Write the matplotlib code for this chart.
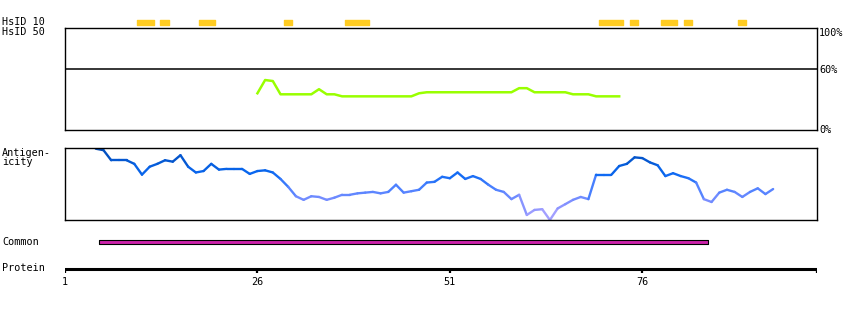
import matplotlib
matplotlib.use('Agg')
import matplotlib.pyplot as plt
from matplotlib.collections import LineCollection
from matplotlib.colors import LinearSegmentedColormap
import numpy as np

# Protein overview plot: HsID hits, identity (%) track, antigenicity track, common region

W, H = 850, 310
protein_end = 98.7
tick_residues = [1, 26, 51, 76]

# HsID 10 hits: (first residue, number of residues)
hsid10_start = [10, 13, 18, 29, 37, 70, 74, 78, 81, 88]
hsid10_len = [2, 1, 2, 1, 3, 3, 1, 2, 1, 1]

# identity track (%), residues 26..73
ident_res = list(range(26, 74))
ident_pct = [36, 49, 48, 35, 35, 35, 35, 35, 40, 35, 35, 33,
             33, 33, 33, 33, 33, 33, 33, 33, 33, 36, 37, 37,
             37, 37, 37, 37, 37, 37, 37, 37, 37, 37, 41, 41,
             37, 37, 37, 37, 37, 35, 35, 35, 33, 33, 33, 33]

# antigenicity (relative score), residues 5..93
antig_res = list(range(5, 94))
antig_val = [0.99, 0.97, 0.83, 0.83, 0.83, 0.78, 0.63, 0.74, 0.78, 0.83,
             0.81, 0.90, 0.74, 0.66, 0.68, 0.78, 0.70, 0.71, 0.71, 0.71,
             0.64, 0.68, 0.69, 0.66, 0.57, 0.46, 0.33, 0.28, 0.33, 0.32,
             0.28, 0.31, 0.35, 0.35, 0.37, 0.38, 0.39, 0.37, 0.39, 0.49,
             0.38, 0.40, 0.42, 0.52, 0.53, 0.60, 0.58, 0.66, 0.57, 0.61,
             0.57, 0.49, 0.42, 0.39, 0.29, 0.35, 0.07, 0.14, 0.15, 0.00,
             0.16, 0.22, 0.28, 0.32, 0.29, 0.63, 0.63, 0.63, 0.75, 0.78,
             0.87, 0.86, 0.80, 0.76, 0.61, 0.65, 0.61, 0.58, 0.52, 0.29,
             0.25, 0.38, 0.42, 0.39, 0.32, 0.39, 0.44, 0.36, 0.43]

# common region
common_start, common_end = 5, 84

font = dict(family='DejaVu Sans Mono', fontsize=7.3)


def fig_box(x0, y0, x1, y1):
    # pixel box (top-left origin) -> figure fraction rect
    return [x0 / W, 1 - y1 / H, (x1 - x0) / W, (y1 - y0) / H]


def ptext(x, y, s, **kw):
    fig.text(x / W, 1 - y / H, s, va='center', **font, **kw)


fig = plt.figure(figsize=(W / 100, H / 100), dpi=100)
xlim = (1, protein_end)

# HsID rows
ax_h = fig.add_axes(fig_box(65, 14, 817, 38))
ax_h.set_xlim(*xlim)
ax_h.set_ylim(0, 24)
ax_h.broken_barh([(s + 0.4, n + 0.1) for s, n in zip(hsid10_start, hsid10_len)],
                 (13.5, 5), color='#ffcc22')
ax_h.axis('off')

# identity panel
ax_i = fig.add_axes(fig_box(65, 28, 817, 130))
ax_i.set_xlim(*xlim)
ax_i.set_ylim(0, 100)
ax_i.axhline(60, color='black', lw=1.1)
ax_i.plot(ident_res, ident_pct, color='#99ff00', lw=1.8)
ax_i.set_xticks([])
ax_i.set_yticks([])
for sp in ax_i.spines.values():
    sp.set_linewidth(1.0)

# antigenicity panel
ax_a = fig.add_axes(fig_box(65, 148, 817, 220))
ax_a.set_xlim(*xlim)
ax_a.set_ylim(0, 1)
cmap = LinearSegmentedColormap.from_list(
    'antig', [(0.0, '#b0a6ff'), (0.25, '#8090ff'), (0.45, '#4a80ff'),
              (0.65, '#0a68f2'), (1.0, '#0048b0')])
pts = np.column_stack([antig_res, antig_val])
segs = np.stack([pts[:-1], pts[1:]], axis=1)
mid = (np.array(antig_val[:-1]) + np.array(antig_val[1:])) / 2
lc = LineCollection(segs, colors=cmap(mid), linewidths=1.7, capstyle='round')
ax_a.add_collection(lc)
ax_a.set_xticks([])
ax_a.set_yticks([])
for sp in ax_a.spines.values():
    sp.set_linewidth(1.0)

# common bar + protein ruler
ax_c = fig.add_axes(fig_box(65, 232, 817, 290))
ax_c.set_xlim(*xlim)
ax_c.set_ylim(290, 232)
ax_c.broken_barh([(common_start + 0.4, common_end - common_start + 0.2)], (240, 4),
                 facecolor='#cc22aa', edgecolor='black', lw=0.8)
ax_c.plot([1, protein_end], [269, 269], color='black', lw=2.2, solid_capstyle='butt')
for r in tick_residues + [protein_end]:
    ax_c.plot([r, r], [268, 273], color='black', lw=1.6, solid_capstyle='butt')
for r in tick_residues:
    ax_c.text(r, 282, str(r), ha='center', va='center', **font)
ax_c.axis('off')

# labels
ptext(2, 22, 'HsID 10')
ptext(2, 32, 'HsID 50')
ptext(2, 153, 'Antigen-')
ptext(2, 162, 'icity')
ptext(2, 242, 'Common')
ptext(2, 268, 'Protein')
ptext(819, 33, '100%')
ptext(819, 70, '60%')
ptext(819, 130, '0%')

fig.savefig('out.png', dpi=100)
